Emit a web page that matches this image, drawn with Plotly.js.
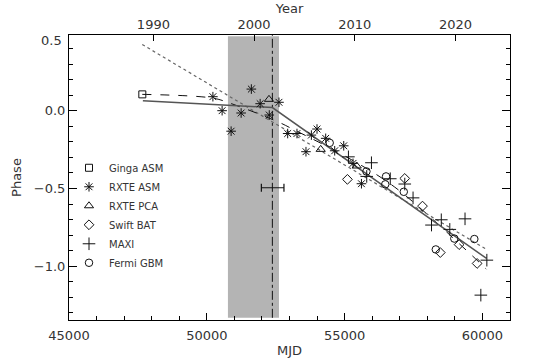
<!DOCTYPE html>
<html>
<head>
<meta charset="utf-8">
<script src="https://cdn.plot.ly/plotly-3.0.1.min.js"></script>
<style>html,body{margin:0;padding:0;background:#fff;}#chart{width:534px;height:358px;}</style>
</head>
<body>
<div id="chart"></div>
<script>
// ---- data ----
const gingaMJD   = [47660];
const gingaPhase = [0.106];

const rxteAsmMJD   = [50221, 50555, 50882, 51245, 51616, 51935, 52266, 52618, 52934, 53271, 53598, 53794, 53998, 54313, 54640, 54967, 55305, 55610];
const rxteAsmPhase = [0.091, 0.001, -0.131, -0.014, 0.140, 0.046, -0.027, 0.055, -0.146, -0.146, -0.263, -0.156, -0.117, -0.177, -0.257, -0.225, -0.338, -0.469];

const rxtePcaMJD   = [52255, 54132, 55439];
const rxtePcaPhase = [0.074, -0.248, -0.355];

const swiftMJD   = [55101, 57182, 57825, 58471, 59154, 59807];
const swiftPhase = [-0.441, -0.435, -0.613, -0.912, -0.861, -0.982];

const maxiMJD   = [55138, 55802, 55973, 56656, 57182, 57483, 58152, 58507, 58816, 59368, 59942, 60160];
const maxiPhase = [-0.296, -0.422, -0.334, -0.437, -0.471, -0.560, -0.735, -0.701, -0.763, -0.695, -1.186, -0.961];

const fermiMJD   = [54459, 55791, 56474, 56503, 57146, 58308, 58979, 59706];
const fermiPhase = [-0.206, -0.390, -0.473, -0.422, -0.521, -0.892, -0.822, -0.825];

// averaged point with horizontal error bar
const avgMJD = [52389];
const avgPhase = [-0.495];
const avgErr = [410];

// fitted curves
const linFitMJD = [47658, 60149];
const linFitPhase = [0.427, -0.892];
const brokenFitMJD = [47680, 52378, 60149];
const brokenFitPhase = [0.065, 0.021, -0.950];
const curveFitMJD = [47658, 50211, 50828, 52571, 53188, 55002, 56819, 59433, 60141];
const curveFitPhase = [0.106, 0.082, 0.050, -0.070, -0.124, -0.290, -0.491, -0.900, -1.019];

// shaded interval and epoch marker
const bandMJD = [50766, 52618];
const bandPhase = [-1.332, 0.48];
const epochMJD = 52378;

// axes
const mjdRange = [45000, 61000];
const phaseRange = [-1.346, 0.488];
const yearTicks = [1990, 2000, 2010, 2020];
const yearRefMJD = 51715; // MJD aligned with 2000 tick
const toYear = m => 2000 + (m - yearRefMJD) / 365.25;

const txt = '#333';
const fontFam = 'DejaVu Sans, sans-serif';

function pts(name, x, y, symbol, size) {
  return {type: 'scatter', mode: 'markers', name: name, x: x, y: y,
    marker: {symbol: symbol, size: size, color: '#111', line: {color: '#111', width: 1}},
    showlegend: true};
}

const traces = [
  {type:'scatter', mode:'lines', x: linFitMJD, y: linFitPhase, line:{color:'#666', width:1.2, dash:'dot'}, showlegend:false, hoverinfo:'skip'},
  {type:'scatter', mode:'lines', x: curveFitMJD, y: curveFitPhase, line:{color:'#111', width:1, dash:'dash', shape:'spline'}, showlegend:false, hoverinfo:'skip'},
  {type:'scatter', mode:'lines', x: brokenFitMJD, y: brokenFitPhase, line:{color:'#555', width:1.5}, showlegend:false, hoverinfo:'skip'},
  pts('Ginga ASM', gingaMJD, gingaPhase, 'square-open', 7),
  pts('RXTE ASM', rxteAsmMJD, rxteAsmPhase, 'asterisk-open', 8),
  pts('RXTE PCA', rxtePcaMJD, rxtePcaPhase, 'triangle-up-open', 8),
  pts('Swift BAT', swiftMJD, swiftPhase, 'diamond-open', 7.5),
  pts('MAXI', maxiMJD, maxiPhase, 'cross-thin-open', 9),
  pts('Fermi GBM', fermiMJD, fermiPhase, 'circle-open', 7.5),
  {type:'scatter', mode:'markers', x: avgMJD, y: avgPhase, marker:{size:1, color:'rgba(0,0,0,0)'},
   error_x:{type:'data', array: avgErr, color:'#111', thickness:1.2, width:4}, showlegend:false, hoverinfo:'skip'},
  {type:'scatter', mode:'markers', x: [], y: [], xaxis:'x2', showlegend:false, hoverinfo:'skip'}
];

const layout = {
  width: 534, height: 358,
  margin: {l: 69, r: 24, t: 35, b: 38},
  paper_bgcolor: '#fff', plot_bgcolor: '#fff',
  font: {family: fontFam, size: 13, color: txt},
  showlegend: true,
  legend: {x: 0.0, xanchor: 'left', y: 0.585, yanchor: 'top', bgcolor: 'rgba(0,0,0,0)',
           font: {size: 10, color: txt}, itemwidth: 30, tracegroupgap: 0},
  xaxis: {range: mjdRange, showgrid: false, zeroline: false, showline: true, linecolor: '#000', linewidth: 1,
          mirror: false, ticks: 'inside', ticklen: 7, tickcolor: '#000', dtick: 5000, tick0: 45000,
          minor: {ticks: 'inside', ticklen: 4, dtick: 1000, tickcolor: '#000'},
          ticklabelstandoff: 3,
          tickformat: 'd', title: {text: 'MJD', standoff: 7, font: {size: 13, color: txt}}},
  xaxis2: {overlaying: 'x', side: 'top', range: mjdRange.map(toYear), showgrid: false, zeroline: false,
           showline: true, linecolor: '#000', linewidth: 1, ticks: 'inside', ticklen: 6, tickcolor: '#000',
           tickvals: yearTicks, ticktext: yearTicks.map(String),
           title: {text: 'Year', standoff: 0, font: {size: 13, color: txt}}},
  yaxis: {range: phaseRange, showgrid: false, zeroline: false, showline: true, linecolor: '#000', linewidth: 1,
          mirror: 'ticks', ticks: 'inside', ticklen: 8, tickcolor: '#000', dtick: 0.5, tick0: 0,
          tickformat: '.1f',
          minor: {ticks: 'inside', ticklen: 4, dtick: 0.1, tickcolor: '#000'},
          title: {text: 'Phase', standoff: 9, font: {size: 13, color: txt}}},
  shapes: [
    {type: 'rect', xref: 'x', yref: 'y', x0: bandMJD[0], x1: bandMJD[1], y0: bandPhase[0], y1: bandPhase[1],
     fillcolor: '#b4b4b4', line: {width: 0}, layer: 'below'},
    {type: 'line', xref: 'x', yref: 'y', x0: epochMJD, x1: epochMJD, y0: bandPhase[0], y1: phaseRange[1],
     line: {color: '#111', width: 1, dash: 'dashdot'}, layer: 'below'}
  ],
  annotations: [
    {text: '0.5', xref: 'paper', yref: 'paper', x: 0, y: 1, xanchor: 'right', yanchor: 'middle',
     xshift: -5, yshift: -5, showarrow: false, font: {size: 13, color: txt}}
  ]
};

Plotly.newPlot('chart', traces, layout, {displayModeBar: false, staticPlot: true});
</script>
</body>
</html>
